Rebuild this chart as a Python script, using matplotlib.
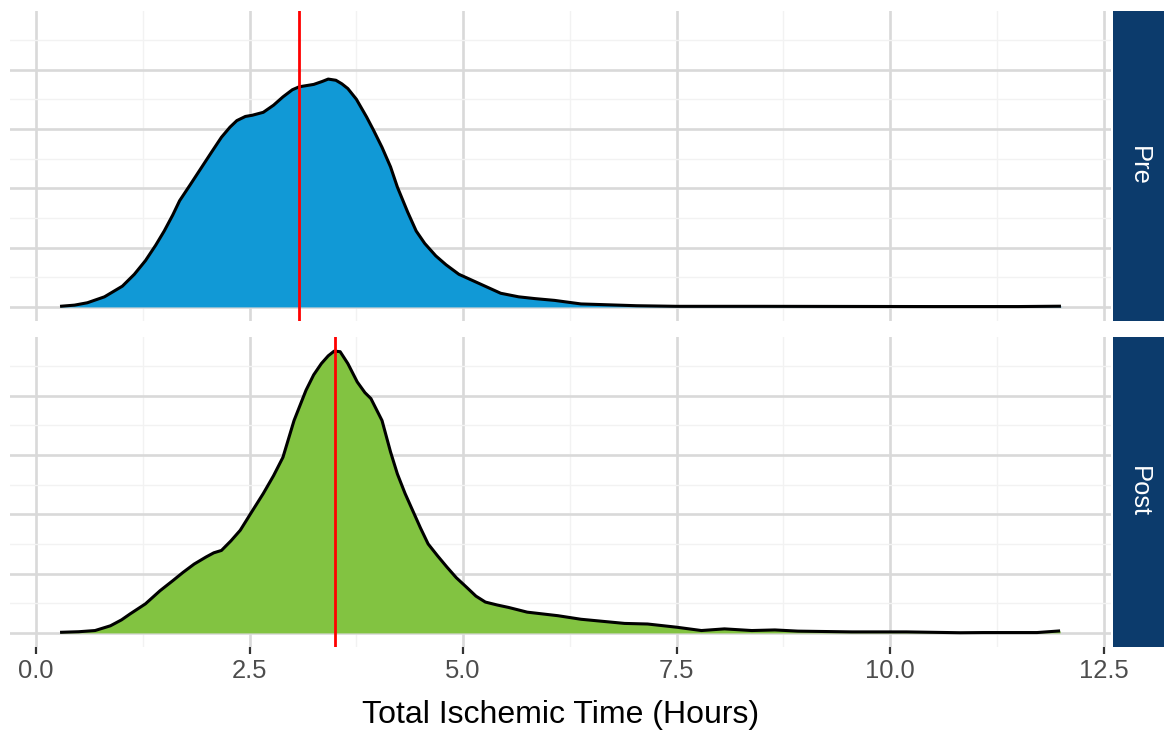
import matplotlib
matplotlib.use("Agg")
import matplotlib.pyplot as plt
from matplotlib.ticker import MultipleLocator

plt.rcParams["font.family"] = ["Liberation Sans", "DejaVu Sans"]

# density curves (hours, density)
pre_x = [0.28, 0.45, 0.60, 0.80, 1.01, 1.15, 1.28, 1.40, 1.50, 1.60, 1.68, 1.80,
         1.90, 2.05, 2.17, 2.27, 2.35, 2.45, 2.53, 2.66, 2.78, 2.89, 3.00, 3.08,
         3.25, 3.35, 3.42, 3.51, 3.58, 3.65, 3.75, 3.87, 3.95, 4.05, 4.15, 4.23,
         4.35, 4.45, 4.55, 4.68, 4.80, 4.95, 5.21, 5.44, 5.65, 5.84, 6.07, 6.38,
         6.60, 7.03, 7.50, 8.50, 9.50, 10.50, 11.50, 12.00]
pre_y = [0.001, 0.003, 0.007, 0.017, 0.035, 0.055, 0.078, 0.104, 0.128, 0.155, 0.179, 0.205,
         0.227, 0.260, 0.286, 0.303, 0.314, 0.321, 0.323, 0.328, 0.340, 0.354, 0.366, 0.371,
         0.375, 0.380, 0.384, 0.382, 0.376, 0.368, 0.350, 0.320, 0.298, 0.269, 0.236, 0.202,
         0.160, 0.128, 0.107, 0.086, 0.071, 0.055, 0.038, 0.023, 0.017, 0.014, 0.011, 0.005,
         0.004, 0.002, 0.001, 0.001, 0.0008, 0.0006, 0.0006, 0.0012]

post_x = [0.28, 0.50, 0.69, 0.87, 1.00, 1.10, 1.28, 1.45, 1.60, 1.72, 1.85, 1.99,
          2.08, 2.17, 2.28, 2.39, 2.52, 2.66, 2.78, 2.89, 3.02, 3.16, 3.25, 3.34,
          3.42, 3.49, 3.56, 3.65, 3.76, 3.85, 3.92, 4.05, 4.15, 4.23, 4.32, 4.41,
          4.50, 4.59, 4.70, 4.81, 4.92, 5.04, 5.15, 5.26, 5.40, 5.53, 5.75, 6.11,
          6.38, 6.89, 7.16, 7.50, 7.79, 8.06, 8.38, 8.65, 8.92, 9.55, 10.19, 10.82,
          11.09, 11.72, 11.99]
post_y = [0.001, 0.002, 0.004, 0.012, 0.022, 0.032, 0.049, 0.071, 0.088, 0.102, 0.116, 0.128,
          0.135, 0.139, 0.155, 0.173, 0.203, 0.235, 0.265, 0.296, 0.358, 0.409, 0.435, 0.454,
          0.467, 0.475, 0.474, 0.454, 0.423, 0.405, 0.395, 0.358, 0.305, 0.268, 0.235, 0.206,
          0.177, 0.150, 0.130, 0.111, 0.093, 0.077, 0.062, 0.052, 0.047, 0.043, 0.035, 0.029,
          0.023, 0.016, 0.015, 0.0096, 0.004, 0.0068, 0.004, 0.005, 0.003, 0.0017, 0.0017, 0.0003,
          0.0006, 0.0006, 0.0034]

groups = ["Pre", "Post"]
means = [3.08, 3.50]
fills = ["#1199D6", "#82C341"]
xlabel = "Total Ischemic Time (Hours)"

W, H = 1164, 734
fig = plt.figure(figsize=(W / 100, H / 100), dpi=100)

xmin = min(min(pre_x), min(post_x))
xmax = max(max(pre_x), max(post_x))
ymax = max(max(pre_y), max(post_y))
xpad = 0.05 * (xmax - xmin)

series = [(pre_x, pre_y), (post_x, post_y)]
tops = [11, 337]   # panel top edges in pixels
ph = 310

for i, (xs, ys) in enumerate(series):
    top = tops[i]
    ax = fig.add_axes([10 / W, (H - top - ph) / H, 1101 / W, ph / H])
    ax.fill_between(xs, ys, 0, color=fills[i], lw=0, zorder=2)
    ax.plot(xs, ys, color="black", lw=2.2, zorder=3, solid_capstyle="butt")
    ax.axvline(means[i], color="#FF0000", lw=2.0, zorder=4)

    ax.set_xlim(xmin - xpad, xmax + xpad)
    ax.set_ylim(-0.05 * ymax, ymax * 1.05)
    ax.xaxis.set_major_locator(MultipleLocator(2.5))
    ax.xaxis.set_minor_locator(MultipleLocator(1.25))
    ax.yaxis.set_major_locator(MultipleLocator(0.1))
    ax.yaxis.set_minor_locator(MultipleLocator(0.05))
    ax.grid(which="major", color="#D9D9D9", lw=1.9, zorder=0)
    ax.grid(which="minor", color="#F2F2F2", lw=1.0, zorder=0)
    ax.set_axisbelow(True)
    for s in ax.spines.values():
        s.set_visible(False)
    ax.tick_params(axis="y", which="both", left=False, labelleft=False)
    ax.tick_params(axis="x", which="minor", bottom=False)
    if i == 0:
        ax.tick_params(axis="x", which="major", bottom=False, labelbottom=False)
    else:
        ax.tick_params(axis="x", which="major", length=5, width=1.6, color="#333333",
                       labelsize=18.4, labelcolor="#4D4D4D", pad=4)
        ax.set_xticks([0, 2.5, 5.0, 7.5, 10.0, 12.5])
        ax.set_xticklabels(["0.0", "2.5", "5.0", "7.5", "10.0", "12.5"])

    # facet strip on the right
    sax = fig.add_axes([1113 / W, (H - top - ph) / H, 51 / W, ph / H])
    sax.set_facecolor("#0C3B6C")
    sax.set_xticks([])
    sax.set_yticks([])
    for s in sax.spines.values():
        s.set_visible(False)
    sax.text(0.5, 0.5, groups[i], rotation=-90, color="white", fontsize=18.4,
             ha="center", va="center", transform=sax.transAxes)

fig.text(561 / W, (H - 715) / H, xlabel, fontsize=23, ha="center", va="center", color="black")

fig.savefig("out.png", dpi=100)
